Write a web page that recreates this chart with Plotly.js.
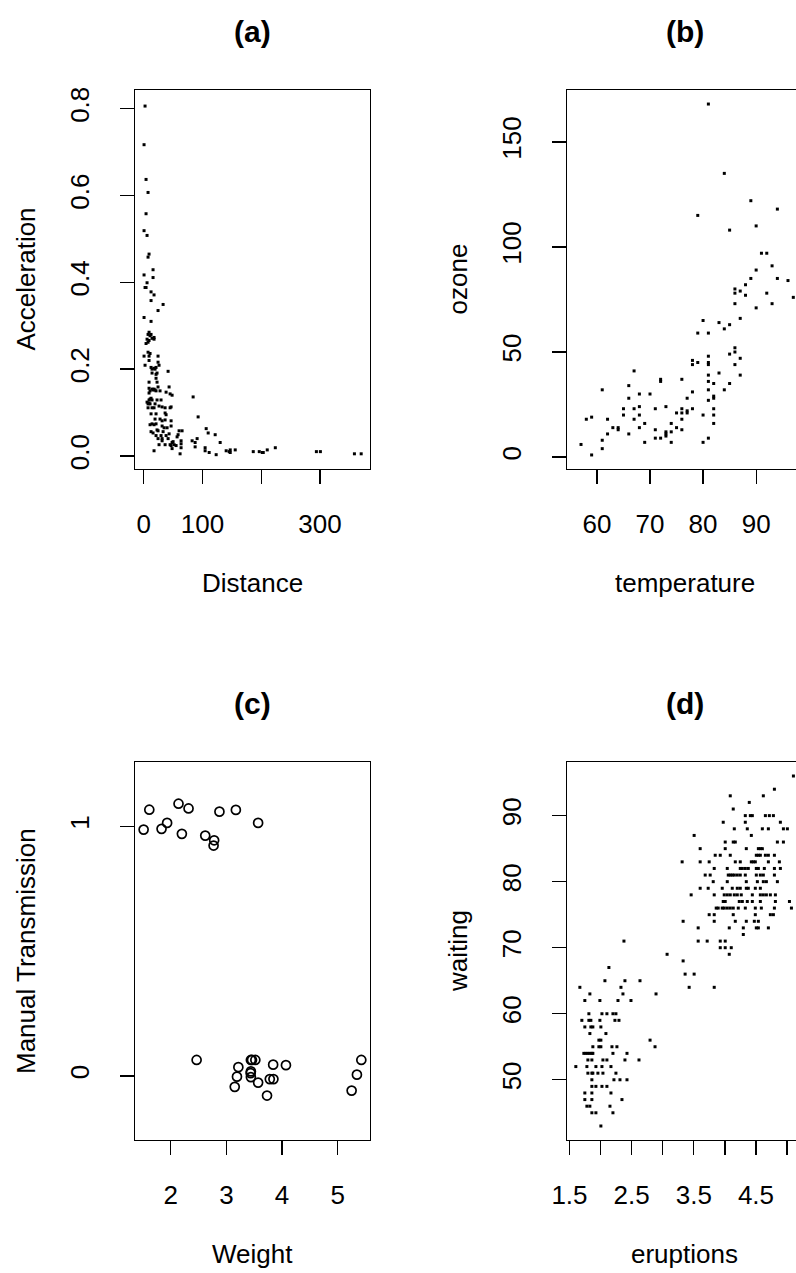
<!DOCTYPE html>
<html>
<head>
<meta charset="utf-8">
<script src="https://cdn.plot.ly/plotly-3.0.1.min.js"></script>
<style>
html, body { margin: 0; padding: 0; background: #fff; overflow: hidden; }
#chart { width: 810px; height: 1273px; }
</style>
</head>
<body>
<div id="chart"></div>
<script>
// ---------- (a) Distance vs Acceleration ----------
const distance = [
  2.3, 0.6, 4.0, 7.4, 4.0, 0.6, 5.7, 9.1, 7.4, 15.9, 0.6, 15.9,
  5.7, 2.3, 4.0, 12.5, 17.6, 12.5, 33.0, 24.4, 0.6, 12.5,
  9.1, 7.4, 12.5, 10.8, 17.6, 14.2, 17.6, 5.7, 9.1, 7.4, 4.0,
  7.4, 10.8, 0.6, 9.1, 24.4, 9.1, 24.4, 26.1, 2.3, 12.5, 17.6, 21.0, 14.2, 19.3, 41.5, 14.2, 22.7, 21.0, 21.0, 22.7, 9.1,
  43.2, 24.4, 9.1, 14.2, 17.6, 15.9, 19.3, 10.8, 21.0, 27.8, 38.1, 9.1, 44.9, 48.3, 84.1, 12.5, 10.8, 14.2, 9.1, 22.7, 29.5,
  5.7, 9.1, 7.4, 10.8, 19.3, 26.1, 31.3, 36.4, 46.6, 44.9, 7.4, 14.2, 17.6,
  36.4, 38.1, 12.5, 21.0, 92.6, 19.3, 27.8, 36.4, 31.3, 46.6,
  10.8, 14.2, 17.6, 21.0, 31.3, 34.7, 39.8, 46.6, 106.3, 24.4, 22.7, 12.5, 15.9, 33.0, 60.2, 65.3, 109.7,
  21.0, 29.5, 38.1, 43.2, 58.5, 121.6, 24.4, 31.3, 41.5, 56.8, 82.4, 90.9, 31.3, 50.0, 63.6, 48.3, 87.5, 63.6, 130.1,
  26.1, 44.9, 51.7, 36.4, 46.6, 55.1, 87.5, 63.6, 48.3, 104.5, 17.6, 104.5, 111.4, 123.3, 61.9, 140.3, 147.2, 155.7, 147.2, 145.5,
  186.4, 196.6, 201.7, 203.4, 210.2, 223.9, 293.8, 300.6, 358.5, 370.0
];
const acceleration = [
  0.806, 0.717, 0.637, 0.607, 0.558, 0.519, 0.508, 0.465, 0.458, 0.429, 0.417, 0.411,
  0.399, 0.388, 0.388, 0.378, 0.371, 0.358, 0.349, 0.335, 0.319, 0.310,
  0.285, 0.280, 0.280, 0.277, 0.273, 0.271, 0.269, 0.269, 0.266, 0.262, 0.259,
  0.239, 0.236, 0.230, 0.230, 0.230, 0.220, 0.216, 0.209, 0.209, 0.204, 0.202, 0.204, 0.200, 0.200, 0.195, 0.191, 0.191, 0.188, 0.179, 0.170, 0.170,
  0.159, 0.159, 0.156, 0.154, 0.154, 0.152, 0.152, 0.150, 0.150, 0.150, 0.147, 0.145, 0.143, 0.140, 0.136, 0.133, 0.131, 0.129, 0.129, 0.129, 0.129,
  0.124, 0.122, 0.120, 0.120, 0.120, 0.115, 0.113, 0.111, 0.113, 0.111, 0.111, 0.111, 0.111,
  0.099, 0.095, 0.097, 0.097, 0.090, 0.085, 0.085, 0.083, 0.081, 0.081,
  0.072, 0.074, 0.072, 0.074, 0.069, 0.065, 0.065, 0.069, 0.063, 0.058, 0.060, 0.056, 0.053, 0.056, 0.058, 0.058, 0.053,
  0.047, 0.047, 0.047, 0.051, 0.049, 0.049, 0.040, 0.040, 0.040, 0.044, 0.035, 0.040, 0.035, 0.033, 0.035, 0.031, 0.031, 0.028, 0.031,
  0.026, 0.026, 0.026, 0.026, 0.024, 0.024, 0.021, 0.019, 0.017, 0.019, 0.012, 0.012, 0.008, 0.003, 0.005, 0.012, 0.014, 0.014, 0.008, 0.010,
  0.010, 0.010, 0.008, 0.008, 0.014, 0.019, 0.010, 0.010, 0.005, 0.005
];

// ---------- (b) temperature vs ozone ----------
const temperature = [
  81, 84, 89, 94, 79, 85, 90, 91, 92, 90, 93, 89, 94, 96, 88,
  86, 87, 86, 88, 92, 97, 93, 86, 90, 87, 80, 83, 85, 84, 79, 81, 86, 86, 85, 87, 81, 78, 78, 79, 81, 81, 86,
  67, 87, 83, 81, 72, 72, 76, 82, 81, 85, 66, 61, 68, 70, 78, 84, 81, 66, 77, 82, 82, 81,
  68, 73, 65, 67, 71, 76, 78, 82, 75, 76, 77, 77, 65, 68, 80, 82, 58, 59, 62, 67, 76,
  69, 68, 63, 64, 64, 74, 82, 75, 62, 66, 71, 76, 73, 73, 73, 74, 71, 72, 61, 69, 74, 80, 81, 57, 61, 59
];
const ozone = [
  168, 135, 122, 118, 115, 108, 110, 97, 97, 89, 91, 85, 85, 84, 82,
  80, 79, 78, 77, 78, 76, 73, 73, 71, 66, 65, 64, 63, 61, 59, 59, 52, 50, 49, 47, 48, 46, 44, 45, 45, 44, 44,
  41, 39, 40, 39, 37, 36, 37, 35, 36, 35, 34, 32, 30, 30, 31, 32, 32, 28, 28, 29, 28, 27,
  24, 24, 23, 23, 23, 23, 23, 23, 21, 21, 21, 22, 20, 20, 20, 20, 18, 19, 18, 18, 18,
  16, 14, 14, 14, 13, 16, 16, 14, 11, 11, 13, 13, 12, 11, 10, 12, 9, 9, 8, 7, 7, 7, 9, 6, 4, 1
];

// ---------- (c) Weight vs Manual Transmission (jittered) ----------
const weight = [
  1.615, 1.513, 1.835, 1.935, 2.140, 2.320, 2.200, 2.620, 2.780, 2.770, 2.875, 3.170, 3.570,
  2.465, 3.215, 3.190, 3.150, 3.440, 3.460, 3.520, 3.435, 3.440, 3.440, 3.570, 3.730, 3.780, 3.845, 3.840, 4.070, 5.424, 5.345, 5.250
];
const manual = [
  1.067, 0.987, 0.990, 1.014, 1.091, 1.072, 0.970, 0.963, 0.944, 0.923, 1.059, 1.066, 1.014,
  0.064, 0.035, -0.003, -0.044, 0.064, 0.064, 0.064, 0.011, -0.005, 0.018, -0.027, -0.079, -0.013, -0.013, 0.045, 0.043, 0.064, 0.005, -0.059
];

// ---------- (d) eruptions vs waiting ----------
const eruptions = [
  5.102,
  4.796,
  4.086, 4.618,
  4.392,
  4.134,
  4.328, 4.409, 4.441, 4.651, 4.715, 4.780,
  3.973, 4.328, 4.892,
  4.151, 4.360, 4.602, 4.699, 4.941, 5.005,
  3.505, 4.425,
  4.005, 4.134, 4.167, 4.844, 4.941,
  3.602, 4.005, 4.344, 4.538, 4.570, 4.602,
  3.844, 3.925, 4.086, 4.505, 4.538, 4.570, 4.651, 4.699, 4.796,
  3.312, 3.602, 3.747, 4.167, 4.247, 4.425, 4.457, 4.489, 4.699, 4.876,
  3.828, 4.038, 4.247, 4.280, 4.328, 4.376, 4.505, 4.538, 4.634, 4.796, 4.892,
  3.683, 3.763, 4.054, 4.086, 4.118, 4.151, 4.199, 4.247, 4.328, 4.505, 4.570, 4.618, 4.796,
  3.812, 4.038, 4.344, 4.522, 4.618, 4.667, 4.844,
  3.602, 3.731, 3.957, 4.118, 4.199, 4.247, 4.344, 4.376, 4.489, 4.570,
  3.457, 3.828, 3.989, 4.038, 4.086, 4.151, 4.199, 4.263, 4.441, 4.570, 4.618, 4.667, 4.731, 4.812,
  3.973, 4.005, 4.231, 4.280, 4.360, 4.441, 4.570, 4.812, 5.038,
  3.860, 3.892, 3.957, 3.989, 4.038, 4.086, 4.134, 4.215, 4.328, 4.489, 4.586, 4.796, 5.070,
  3.747, 3.828, 4.134, 4.489, 4.731, 4.780,
  3.328, 3.828, 4.167, 4.344, 4.473, 4.538,
  3.570, 4.070, 4.296, 4.505, 4.538, 4.699,
  4.296,
  2.376, 3.570, 3.715, 3.925, 4.005,
  3.925, 4.005, 4.102,
  3.070, 4.070,
  3.328,
  2.134,
  3.360, 3.505,
  2.070, 2.392, 2.634,
  1.667, 2.328, 3.425, 3.828,
  1.828, 2.360, 2.892,
  1.747, 1.989, 2.280, 2.489,
  1.812, 2.022, 2.102, 2.199, 2.247,
  1.699, 1.812, 1.844, 1.989, 2.231, 2.296,
  1.747, 1.844, 1.876, 2.005,
  1.828, 2.086,
  1.973, 2.005, 2.796,
  1.876, 1.973, 2.005, 2.183, 2.263, 2.876,
  1.731, 1.763, 1.796, 1.828, 1.860, 1.876, 2.199, 2.425,
  1.796, 1.860, 2.038, 2.102, 2.392, 2.618,
  1.602, 1.780, 1.925, 2.022, 2.167,
  1.796, 1.860, 1.876, 1.957, 2.038, 2.247,
  1.860, 2.215, 2.312, 2.425,
  1.860, 1.925, 2.022, 2.102,
  1.747, 1.860, 2.167,
  1.747, 1.860, 2.344,
  1.780, 1.828, 2.151,
  1.860, 1.925, 2.199,
  2.005
];
const waiting = [
  96,
  94,
  93, 93,
  92,
  91,
  90, 90, 90, 90, 90, 90,
  89, 89, 89,
  88, 88, 88, 88, 88, 88,
  87, 87,
  86, 86, 86, 86, 86,
  85, 85, 85, 85, 85, 85,
  84, 84, 84, 84, 84, 84, 84, 84, 84,
  83, 83, 83, 83, 83, 83, 83, 83, 83, 83,
  82, 82, 82, 82, 82, 82, 82, 82, 82, 82, 82,
  81, 81, 81, 81, 81, 81, 81, 81, 81, 81, 81, 81, 81,
  80, 80, 80, 80, 80, 80, 80,
  79, 79, 79, 79, 79, 79, 79, 79, 79, 79,
  78, 78, 78, 78, 78, 78, 78, 78, 78, 78, 78, 78, 78, 78,
  77, 77, 77, 77, 77, 77, 77, 77, 77,
  76, 76, 76, 76, 76, 76, 76, 76, 76, 76, 76, 76, 76,
  75, 75, 75, 75, 75, 75,
  74, 74, 74, 74, 74, 74,
  73, 73, 73, 73, 73, 73,
  72,
  71, 71, 71, 71, 71,
  70, 70, 70,
  69, 69,
  68,
  67,
  66, 66,
  65, 65, 65,
  64, 64, 64, 64,
  63, 63, 63,
  62, 62, 62, 62,
  60, 60, 60, 60, 60,
  59, 59, 59, 59, 59, 59,
  58, 58, 58, 58,
  57, 57,
  56, 56, 56,
  55, 55, 55, 55, 55, 55,
  54, 54, 54, 54, 54, 54, 54, 54,
  53, 53, 53, 53, 53, 53,
  52, 52, 52, 52, 52,
  51, 51, 51, 51, 51, 51,
  50, 50, 50, 50,
  49, 49, 49, 49,
  48, 48, 48,
  47, 47, 47,
  46, 46, 46,
  45, 45, 45,
  43
];

// ---------- tick labels ----------
const aXTicks = [0, 100, 200, 300];
const aXLabels = ['0', '100', '', '300'];
const aYTicks = [0, 0.2, 0.4, 0.6, 0.8];
const aYLabels = ['0.0', '0.2', '0.4', '0.6', '0.8'];
const bXTicks = [60, 70, 80, 90];
const bYTicks = [0, 50, 100, 150];
const cXTicks = [2, 3, 4, 5];
const cYTicks = [0, 1];
const dXTicks = [1.5, 2, 2.5, 3, 3.5, 4, 4.5, 5];
const dXLabels = ['1.5', '', '2.5', '', '3.5', '', '4.5', ''];
const dYTicks = [50, 60, 70, 80, 90];

// ---------- layout helpers (pixel geometry of the page) ----------
const W = 810, H = 1273;
const FONT = 'Liberation Sans, Arial, Helvetica, sans-serif';
const px = v => v / W;
const py = v => 1 - v / H;

function axis(domain, range, tickvals, ticktext, isY) {
  const a = {
    domain: domain, range: range, tickvals: tickvals,
    showline: true, mirror: true, linecolor: '#000', linewidth: 1.3,
    ticks: 'outside', ticklen: 14, tickwidth: 1.3, tickcolor: '#000',
    showgrid: false, zeroline: false, fixedrange: true,
    tickfont: { family: FONT, size: 26, color: '#000' },
    ticklabelstandoff: isY ? 20 : 17
  };
  if (ticktext) a.ticktext = ticktext;
  if (isY) a.tickangle = -90;
  return a;
}

const colA = [px(135), px(370)];
const colB = [px(567), px(802)];
const rowTop = [py(469), py(90)];
const rowBot = [py(1140), py(762)];

const dot = { symbol: 'square', size: 3, color: '#000', line: { width: 0 } };

const traces = [
  { x: distance, y: acceleration, xaxis: 'x', yaxis: 'y', type: 'scatter', mode: 'markers', marker: dot },
  { x: temperature, y: ozone, xaxis: 'x2', yaxis: 'y2', type: 'scatter', mode: 'markers', marker: dot },
  { x: weight, y: manual, xaxis: 'x3', yaxis: 'y3', type: 'scatter', mode: 'markers',
    marker: { symbol: 'circle-open', size: 9, color: '#000', line: { width: 1.7, color: '#000' } } },
  { x: eruptions, y: waiting, xaxis: 'x4', yaxis: 'y4', type: 'scatter', mode: 'markers', marker: dot }
];

function label(text, x, y, angle, bold, size) {
  return {
    text: bold ? '<b>' + text + '</b>' : text,
    xref: 'paper', yref: 'paper', x: px(x), y: py(y),
    xanchor: 'center', yanchor: 'middle', showarrow: false,
    textangle: angle || 0,
    font: { family: FONT, size: size, color: '#000' }
  };
}

const layout = {
  width: W, height: H,
  margin: { l: 0, r: 0, t: 0, b: 0 },
  paper_bgcolor: '#fff', plot_bgcolor: '#fff',
  showlegend: false, hovermode: false,
  xaxis: Object.assign(axis(colA, [-14.8, 385], aXTicks, aXLabels, false), { anchor: 'y' }),
  yaxis: Object.assign(axis(rowTop, [-0.030, 0.843], aYTicks, aYLabels, true), { anchor: 'x' }),
  xaxis2: Object.assign(axis(colB, [54.36, 98.64], bXTicks, null, false), { anchor: 'y2' }),
  yaxis2: Object.assign(axis(rowTop, [-5.68, 174.68], bYTicks, null, true), { anchor: 'x2' }),
  xaxis3: Object.assign(axis(colA, [1.358, 5.58], cXTicks, null, false), { anchor: 'y3' }),
  yaxis3: Object.assign(axis(rowBot, [-0.257, 1.258], cYTicks, null, true), { anchor: 'x3' }),
  xaxis4: Object.assign(axis(colB, [1.46, 5.24], dXTicks, dXLabels, false), { anchor: 'y4' }),
  yaxis4: Object.assign(axis(rowBot, [40.88, 98.12], dYTicks, null, true), { anchor: 'x4' }),
  annotations: [
    label('(a)', 252.5, 31, 0, true, 30),
    label('(b)', 684.5, 31, 0, true, 30),
    label('(c)', 252.5, 703, 0, true, 30),
    label('(d)', 684.5, 703, 0, true, 30),
    label('Distance', 252.5, 583, 0, false, 26),
    label('temperature', 684.5, 583, 0, false, 26),
    label('Weight', 252.5, 1254, 0, false, 26),
    label('eruptions', 684.5, 1254, 0, false, 26),
    label('Acceleration', 26, 279.5, -90, false, 26),
    label('ozone', 458, 279.5, -90, false, 26),
    label('Manual Transmission', 26, 951, -90, false, 26),
    label('waiting', 458, 951, -90, false, 26)
  ]
};

Plotly.newPlot('chart', traces, layout, { staticPlot: true, displayModeBar: false });
</script>
</body>
</html>
